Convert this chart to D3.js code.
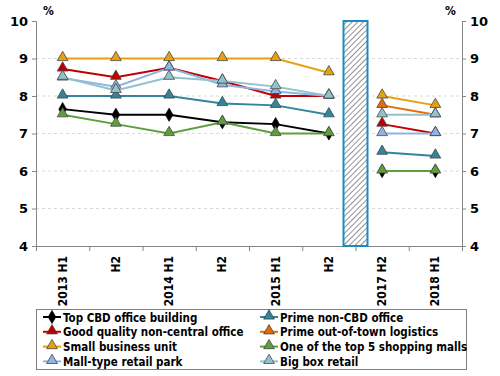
<!DOCTYPE html>
<html>
<head>
<meta charset="utf-8">
<script src="https://cdn.jsdelivr.net/npm/d3@7"></script>
<style>
  body { margin: 0; background: #fff; }
  text { font-family: "DejaVu Sans Condensed", "DejaVu Sans", sans-serif; font-weight: bold; fill: #000; }
</style>
</head>
<body>
<div id="chart"></div>
<script>
  const W = 500, H = 376;

  const periods = ["2013 H1", "H2", "2014 H1", "H2", "2015 H1", "H2", "2017 H2", "2018 H1"];
  const yTicks = [4, 5, 6, 7, 8, 9, 10];

  const topCBD       = [7.65, 7.5, 7.5, 7.3, 7.25, 7.0, 6.0, 6.0];
  const primeNonCBD  = [8.0, 8.0, 8.0, 7.8, 7.75, 7.5, 6.5, 6.4];
  const goodQuality  = [8.72, 8.5, 8.75, 8.4, 8.0, 8.0, 7.25, 7.0];
  const logistics    = [null, null, null, null, null, null, 7.75, 7.5];
  const smallBiz     = [9.0, 9.0, 9.0, 9.0, 9.0, 8.62, 8.0, 7.75];
  const topMalls     = [7.5, 7.25, 7.0, 7.3, 7.0, 7.0, 6.0, 6.0];
  const retailPark   = [8.48, 8.25, 8.75, 8.3, 8.12, 8.0, 7.0, 7.0];
  const bigBox       = [8.5, 8.15, 8.5, 8.4, 8.25, 8.0, 7.5, 7.5];

  // the two runs of the series, split by the hatched gap
  const runs = [[0, 5], [6, 7]];

  const series = [
    { name: "Top CBD office building",        values: topCBD,      color: "#000000", shape: "diamond" },
    { name: "Prime non-CBD office",           values: primeNonCBD, color: "#31859c", shape: "triangle" },
    { name: "Good quality non-central office", values: goodQuality, color: "#c00000", shape: "triangle" },
    { name: "Prime out-of-town logistics",    values: logistics,   color: "#e36c09", shape: "triangle" },
    { name: "Small business unit",            values: smallBiz,    color: "#e5a10f", shape: "triangle" },
    { name: "One of the top 5 shopping malls", values: topMalls,    color: "#5f9e3c", shape: "triangle" },
    { name: "Mall-type retail park",          values: retailPark,  color: "#8db4e2", shape: "triangle" },
    { name: "Big box retail",                 values: bigBox,      color: "#93c1cc", shape: "triangle" }
  ];

  const pLeft = 36, pRight = 462, pTop = 21, pBottom = 246;

  const svg = d3.select("#chart").append("svg")
    .attr("width", W)
    .attr("height", H);

  const x = d3.scaleBand().domain(d3.range(periods.length)).range([pLeft, pRight]);
  const y = d3.scaleLinear().domain([4, 10]).range([pBottom, pTop]);

  const defs = svg.append("defs");
  const pat = defs.append("pattern")
    .attr("id", "hatch")
    .attr("patternUnits", "userSpaceOnUse")
    .attr("width", 4).attr("height", 4)
    .attr("patternTransform", "rotate(45)");
  pat.append("rect").attr("width", 4).attr("height", 4).attr("fill", "#fff");
  pat.append("line")
    .attr("x1", 0).attr("y1", 0).attr("x2", 0).attr("y2", 4)
    .style("stroke", "#808080").style("stroke-width", "1.7px");

  // gridlines
  svg.append("g").selectAll("line")
    .data(yTicks.filter(t => t > 4 && t < 10))
    .join("line")
    .attr("x1", pLeft).attr("x2", pRight)
    .attr("y1", d => y(d)).attr("y2", d => y(d))
    .style("stroke", "#d9d9d9")
    .style("stroke-width", "1px")
    .style("stroke-dasharray", "3,3");

  // axes
  const axisL = svg.append("g").attr("transform", `translate(${pLeft},0)`)
    .call(d3.axisLeft(y).tickValues(yTicks).tickFormat(d3.format("d")).tickSize(4).tickPadding(4));
  const axisR = svg.append("g").attr("transform", `translate(${pRight},0)`)
    .call(d3.axisRight(y).tickValues(yTicks).tickFormat(d3.format("d")).tickSize(4).tickPadding(4));
  [axisL, axisR].forEach(a => {
    a.select(".domain").style("stroke", "#868686");
    a.selectAll(".tick line").style("stroke", "#868686");
    a.selectAll(".tick text")
      .style("font-family", "'DejaVu Sans', sans-serif")
      .style("font-size", "13px")
      .style("font-weight", "bold")
      .attr("fill", "#000");
  });

  const xb = d3.scaleLinear().domain([0, periods.length]).range([pLeft, pRight]);
  const axisB = svg.append("g").attr("transform", `translate(0,${pBottom})`)
    .call(d3.axisBottom(xb).tickValues(d3.range(periods.length + 1)).tickSize(5).tickFormat(""));
  axisB.select(".domain").style("stroke", "#868686");
  axisB.selectAll(".tick line").style("stroke", "#868686");

  svg.append("g").selectAll("text")
    .data(periods)
    .join("text")
    .attr("transform", (d, i) => `translate(${x(i) + x.bandwidth() / 2 + 4},${pBottom + 10}) rotate(-90)`)
    .attr("text-anchor", "end")
    .style("font-size", "12px")
    .text(d => d);

  svg.append("text").attr("x", 43).attr("y", 15).style("font-size", "12px").text("%");
  svg.append("text").attr("x", 445).attr("y", 15).style("font-size", "12px").text("%");

  // hatched gap between 2015 H2 and 2017 H2
  const gx = xb(6);
  svg.append("rect")
    .attr("x", gx - 12).attr("y", y(10))
    .attr("width", 24).attr("height", y(4) - y(10))
    .attr("fill", "url(#hatch)")
    .style("stroke", "#1a8bc0")
    .style("stroke-width", "2px");

  const tri = d3.symbol().type(d3.symbolTriangle).size(50);
  const dia = d3.symbol().type(d3.symbolDiamond).size(50);

  const line = d3.line()
    .defined(d => d.v != null)
    .x(d => x(d.i) + x.bandwidth() / 2)
    .y(d => y(d.v));

  series.forEach(s => {
    const g = svg.append("g");
    runs.forEach(([a, b]) => {
      const pts = d3.range(a, b + 1).map(i => ({ i: i, v: s.values[i] }));
      g.append("path")
        .attr("d", line(pts))
        .style("fill", "none")
        .style("stroke", s.color)
        .style("stroke-width", "2px");
    });
    g.selectAll("path.m")
      .data(s.values.map((v, i) => ({ i: i, v: v })).filter(d => d.v != null))
      .join("path")
      .attr("class", "m")
      .attr("transform", d => `translate(${x(d.i) + x.bandwidth() / 2},${y(d.v) - (s.shape === "triangle" ? 1 : 0)})`)
      .attr("d", s.shape === "triangle" ? tri : dia)
      .style("fill", s.color)
      .style("stroke", s.shape === "triangle" ? "#404040" : "#000")
      .style("stroke-width", "0.75px");
  });

  // legend
  const lg = svg.append("g");
  lg.append("rect")
    .attr("x", 36.5).attr("y", 309.5)
    .attr("width", 430).attr("height", 60)
    .style("fill", "#fff")
    .style("stroke", "#808080")
    .style("stroke-width", "1px");

  const cols = [43, 260];
  series.forEach((s, k) => {
    const cx = cols[k % 2];
    const cy = 317 + Math.floor(k / 2) * 14.8;
    lg.append("line")
      .attr("x1", cx).attr("x2", cx + 18)
      .attr("y1", cy).attr("y2", cy)
      .style("stroke", s.color)
      .style("stroke-width", "2px");
    lg.append("path")
      .attr("transform", `translate(${cx + 9},${cy - (s.shape === "triangle" ? 1 : 0)})`)
      .attr("d", s.shape === "triangle" ? tri : dia)
      .style("fill", s.color)
      .style("stroke", s.shape === "triangle" ? "#404040" : "#000")
      .style("stroke-width", "0.75px");
    lg.append("text")
      .attr("x", cx + 20).attr("y", cy + 4.5)
      .style("font-size", "11.5px")
      .text(s.name);
  });
</script>
</body>
</html>
